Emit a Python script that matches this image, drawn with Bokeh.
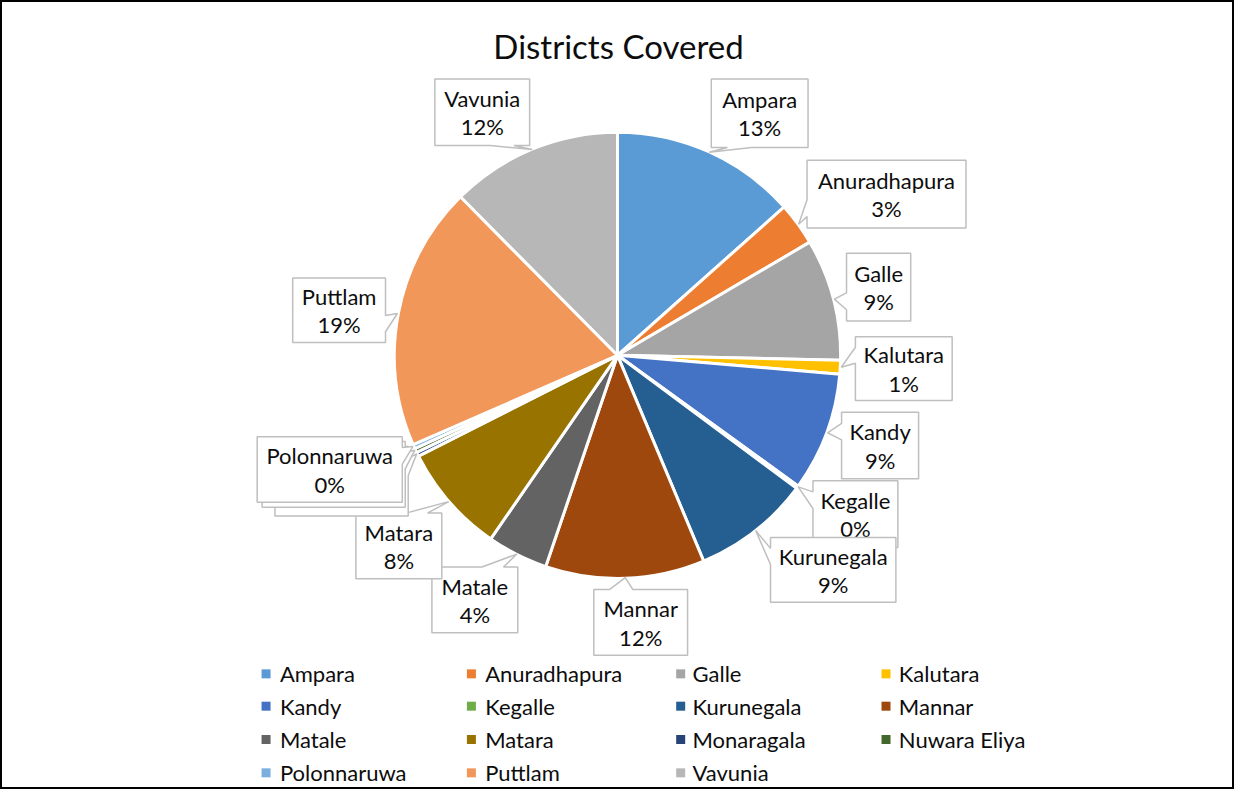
import math
from bokeh.plotting import figure
from bokeh.models import Range1d
from bokeh.core.properties import value
from bokeh.embed import file_html
from bokeh.resources import INLINE

# ---------------- data ----------------
title = "Districts Covered"
districts = ["Ampara", "Anuradhapura", "Galle", "Kalutara", "Kandy", "Kegalle",
             "Kurunegala", "Mannar", "Matale", "Matara", "Monaragala",
             "Nuwara Eliya", "Polonnaruwa", "Puttlam", "Vavunia"]
shares = [13.4, 3.1, 8.8, 1.0, 8.6, 0.2, 8.5, 11.5, 4.4, 7.9, 0.3, 0.3, 0.3, 19.1, 12.4]
colors = ["#5B9BD5", "#ED7D31", "#A5A5A5", "#FFC000", "#4472C4", "#70AD47",
          "#255E91", "#9E480E", "#636363", "#997300", "#264478", "#43682B",
          "#7CAFDD", "#F1975A", "#B7B7B7"]

# ---------------- layout (reference pixel coords) ----------------
CX, CY, R = 625, 362, 226
# callout boxes: left, right, top, bottom
label_boxes = [
    (720, 818, 80, 150),   # Ampara
    (817, 978, 163, 232),  # Anuradhapura
    (857, 922, 258, 327),  # Galle
    (866, 964, 343, 408),  # Kalutara
    (852, 930, 420, 488),  # Kandy
    (823, 909, 490, 558),  # Kegalle
    (780, 907, 548, 614),  # Kurunegala
    (601, 696, 601, 668),  # Mannar
    (437, 524, 578, 645),  # Matale
    (360, 447, 523, 590),  # Matara
    (278, 413, 455, 526),  # Monaragala
    (265, 410, 450, 517),  # Nuwara Eliya
    (260, 407, 445, 512),  # Polonnaruwa
    (296, 390, 283, 349),  # Puttlam
    (440, 536, 80, 148),   # Vavunia
]
legend_cols_marker = [269, 477, 689, 897]
legend_cols_text = [283, 491, 701, 910]
legend_rows = [687, 720, 754, 788]

FONT = "Lato"
TXT = "#0d0d0d"
FS = "22px"


def Y(ry):
    return 805 - ry


p = figure(width=1234, height=789, x_range=Range1d(0, 1250), y_range=Range1d(0, 805),
           output_backend="svg", toolbar_location=None, min_border=0,
           x_axis_location=None, y_axis_location=None)
p.grid.visible = False
p.outline_line_color = "#000000"
p.outline_line_width = 3
p.background_fill_color = "white"
p.border_fill_color = "white"

# ---------------- pie ----------------
total = sum(shares)
starts, ends, mids = [], [], []
cum = 0.0
for v in shares:
    a0 = math.pi / 2 - 2 * math.pi * cum / total
    cum += v
    a1 = math.pi / 2 - 2 * math.pi * cum / total
    starts.append(a0)
    ends.append(a1)
    mids.append((a0 + a1) / 2)

p.wedge(x=[CX] * len(shares), y=[Y(CY)] * len(shares), radius=R,
        start_angle=starts, end_angle=ends, direction="clock",
        fill_color=colors, line_color="white", line_width=3)

# ---------------- callouts ----------------
def callout_path(box, tip):
    l, r, t, b = box
    tx, ty = tip
    w, h = r - l, b - t
    hc, vc = (l + r) / 2, (t + b) / 2
    dx, dy = tx - hc, ty - vc
    dq = dx * h / w
    dz = abs(dy) - abs(dq)
    xg1, xg2 = (7, 10) if dx > 0 else (2, 5)
    yg1, yg2 = (7, 10) if dy > 0 else (2, 5)
    x1, x2 = l + w * xg1 / 12, l + w * xg2 / 12
    y1, y2 = t + h * yg1 / 12, t + h * yg2 / 12
    inside = l <= tx <= r and t <= ty <= b
    if inside:
        pts = [(l, t), (r, t), (r, b), (l, b)]
    elif dz > 0 and dy < 0:   # top
        pts = [(l, t), (x1, t), (tx, ty), (x2, t), (r, t), (r, b), (l, b)]
    elif dz > 0:              # bottom
        pts = [(l, t), (r, t), (r, b), (x2, b), (tx, ty), (x1, b), (l, b)]
    elif dx < 0:              # left
        pts = [(l, t), (r, t), (r, b), (l, b), (l, y2), (tx, ty), (l, y1)]
    else:                     # right
        pts = [(l, t), (r, t), (r, y1), (tx, ty), (r, y2), (r, b), (l, b)]
    return [q[0] for q in pts], [Y(q[1]) for q in pts]


for i, name in enumerate(districts):
    a = mids[i]
    tip = (CX + (R + 1) * math.cos(a), CY - (R + 1) * math.sin(a))
    xs, ys = callout_path(label_boxes[i], tip)
    p.patch(xs, ys, fill_color="white", line_color="#BFBFBF", line_width=1.5)
    l, r, t, b = label_boxes[i]
    xc, yc = (l + r) / 2, (t + b) / 2
    pct = f"{round(100 * shares[i] / total)}%"
    p.text(x=[xc], y=[Y(yc - 14)], text=[name], text_font=value(FONT),
           text_font_size=FS, text_color=TXT, text_align="center",
           text_baseline="middle")
    p.text(x=[xc], y=[Y(yc + 15)], text=[pct], text_font=value(FONT),
           text_font_size=FS, text_color=TXT, text_align="center",
           text_baseline="middle")

# ---------------- title ----------------
p.text(x=[626], y=[Y(46)], text=[title], text_font=value(FONT),
       text_font_size="33px", text_color=TXT, text_align="center",
       text_baseline="middle")

# ---------------- legend ----------------
mx, my, tx_, ty_ = [], [], [], []
for i, name in enumerate(districts):
    row, col = divmod(i, 4)
    mx.append(legend_cols_marker[col])
    my.append(Y(legend_rows[row]))
    tx_.append(legend_cols_text[col])
    ty_.append(Y(legend_rows[row]))
p.scatter(x=mx, y=my, marker="square", size=9, fill_color=colors, line_color=None)
p.text(x=tx_, y=ty_, text=districts, text_font=value(FONT), text_font_size=FS,
       text_color=TXT, text_align="left", text_baseline="middle")

open("out.html", "w").write(file_html(p, INLINE))
